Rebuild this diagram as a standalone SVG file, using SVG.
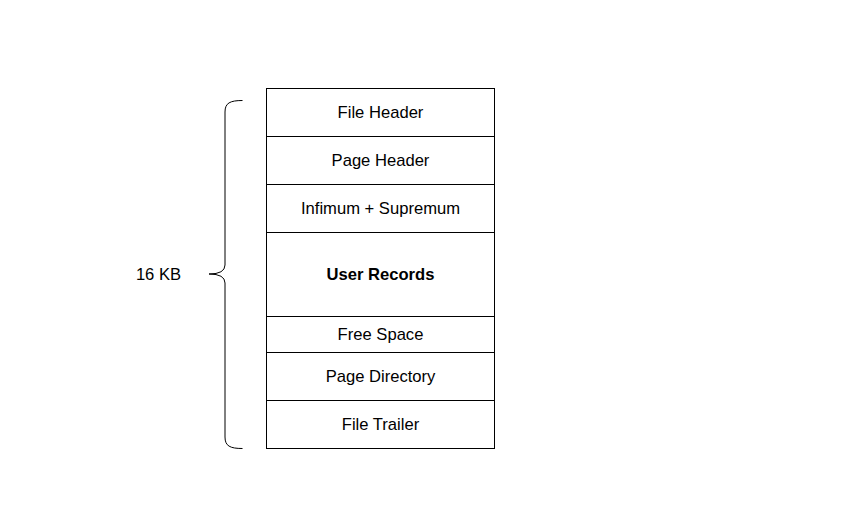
<svg xmlns="http://www.w3.org/2000/svg" width="846" height="509" viewBox="0 0 846 509">
<style>
.cell{fill:#fff;stroke:#000;stroke-width:1}
.t{font-family:"Liberation Sans",Arial,sans-serif;font-size:16.6px;fill:#000;text-anchor:middle;dominant-baseline:central}
.b{font-weight:bold}
.brace{fill:none;stroke:#000;stroke-width:1}
</style>
<rect width="846" height="509" fill="#fff"/>
<g id="file-header"><rect class="cell" x="266.5" y="88.5" width="228" height="48"/><text class="t" x="380.5" y="112.5">File Header</text></g>
<g id="page-header"><rect class="cell" x="266.5" y="136.5" width="228" height="48"/><text class="t" x="380.5" y="160.5">Page Header</text></g>
<g id="infimum-supremum"><rect class="cell" x="266.5" y="184.5" width="228" height="48"/><text class="t" x="380.5" y="208.5">Infimum + Supremum</text></g>
<g id="user-records"><rect class="cell" x="266.5" y="232.5" width="228" height="84"/><text class="t b" x="380.5" y="274.5">User Records</text></g>
<g id="free-space"><rect class="cell" x="266.5" y="316.5" width="228" height="36"/><text class="t" x="380.5" y="334.5">Free Space</text></g>
<g id="page-directory"><rect class="cell" x="266.5" y="352.5" width="228" height="48"/><text class="t" x="380.5" y="376.5">Page Directory</text></g>
<g id="file-trailer"><rect class="cell" x="266.5" y="400.5" width="228" height="48"/><text class="t" x="380.5" y="424.5">File Trailer</text></g>
<g id="brace-16kb">
<path class="brace" d="M242.5,100.5 C230,100.5 225,103 225,112 L225,265 Q225,274 209,274 Q225,274 225,283 L225,437 C225,446 230,448.5 242.5,448.5"/>
<text class="t" x="158.5" y="274">16 KB</text>
</g>
</svg>
